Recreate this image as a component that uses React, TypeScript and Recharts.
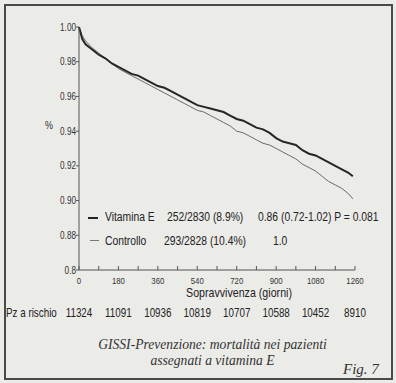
import { LineChart, Line, XAxis, YAxis } from "recharts";

const days = [0, 15, 30, 60, 90, 120, 150, 180, 210, 240, 270, 300, 330, 360, 390, 420, 450, 480, 510, 540, 570, 600, 630, 660, 690, 720, 750, 780, 810, 840, 870, 900, 930, 960, 990, 1020, 1050, 1080, 1110, 1140, 1170, 1200, 1230, 1250];
const vitaminaE = [1.0, 0.993, 0.99, 0.987, 0.984, 0.982, 0.979, 0.977, 0.975, 0.973, 0.972, 0.97, 0.968, 0.966, 0.965, 0.963, 0.961, 0.959, 0.957, 0.955, 0.954, 0.953, 0.952, 0.951, 0.949, 0.947, 0.946, 0.944, 0.942, 0.941, 0.939, 0.936, 0.934, 0.933, 0.932, 0.929, 0.927, 0.926, 0.924, 0.922, 0.92, 0.918, 0.916, 0.914];
const controllo = [1.0, 0.995, 0.992, 0.988, 0.985, 0.982, 0.979, 0.976, 0.974, 0.972, 0.97, 0.968, 0.966, 0.964, 0.962, 0.96, 0.958, 0.956, 0.954, 0.952, 0.951, 0.949, 0.947, 0.945, 0.943, 0.94, 0.939, 0.937, 0.935, 0.933, 0.932, 0.93, 0.928, 0.926, 0.924, 0.921, 0.919, 0.917, 0.914, 0.911, 0.909, 0.907, 0.904, 0.901];

const xTicks = [0, 90, 180, 270, 360, 450, 540, 630, 720, 810, 900, 990, 1080, 1170, 1260];
const xLabelTicks = [0, 180, 360, 540, 720, 900, 1080, 1260];
const yTicks = [0.86, 0.88, 0.9, 0.92, 0.94, 0.96, 0.98, 1.0];
const yTickLabels = ["0.8", "0.88", "0.90", "0.92", "0.94", "0.96", "0.98", "1.00"];
const atRisk = [11324, 11091, 10936, 10819, 10707, 10588, 10452, 8910];

const legendNames = ["Vitamina E", "Controllo"];
const legendEvents = ["252/2830 (8.9%)", "293/2828 (10.4%)"];
const legendHR = ["0.86 (0.72-1.02) P = 0.081", "1.0"];

const data = days.map((d, i) => ({ day: d, vit: vitaminaE[i], ctrl: controllo[i] }));

const sans = "'Liberation Sans', Arial, sans-serif";
const serif = "'Liberation Serif', 'DejaVu Serif', serif";
const ink = "#333";
const narrow = 0.82;

function NarrowText({ x, y, size, anchor = "middle", fill = ink, children }: any) {
  return (
    <text
      transform={`translate(${x} ${y}) scale(${narrow} 1)`}
      textAnchor={anchor}
      fontSize={size}
      fill={fill}
      fontFamily={sans}
    >
      {children}
    </text>
  );
}

function XTick(props: any) {
  const { x, y, payload } = props;
  const showLabel = xLabelTicks.includes(payload.value);
  return (
    <g>
      <line x1={x} x2={x} y1={y} y2={y - 4} stroke="#555" />
      {showLabel && (
        <NarrowText x={x} y={y + 14} size={9.5}>
          {payload.value}
        </NarrowText>
      )}
    </g>
  );
}

function YTick(props: any) {
  const { x, y, payload } = props;
  const idx = yTicks.findIndex((t) => Math.abs(t - payload.value) < 1e-6);
  return (
    <NarrowText x={x} y={y + 3.5} size={10} anchor="end">
      {yTickLabels[idx]}
    </NarrowText>
  );
}

function RiskTick(props: any) {
  const { x, y, payload } = props;
  const idx = xLabelTicks.indexOf(payload.value);
  return (
    <NarrowText x={x} y={y + 17} size={12} fill="#222">
      {atRisk[idx]}
    </NarrowText>
  );
}

export default function App() {
  return (
    <div style={{ position: "absolute", left: 0, top: 0, width: 396, height: 383, background: "#ebebe8", overflow: "hidden" }}>
      <div
        style={{
          position: "absolute",
          left: 4,
          top: 4,
          width: 389,
          height: 376,
          border: "2px solid #4a4a4a",
          boxSizing: "border-box",
        }}
      />
      <LineChart
        width={396}
        height={383}
        data={data}
        margin={{ top: 27, right: 41, left: 0, bottom: 63 }}
        style={{ position: "absolute", left: 0, top: 0 }}
      >
        <XAxis
          dataKey="day"
          type="number"
          domain={[0, 1260]}
          ticks={xTicks}
          interval={0}
          height={30}
          tickSize={0}
          tickMargin={0}
          tickLine={false}
          tick={<XTick />}
          stroke="#555"
          label={(p: any) => {
            const vb = p.viewBox || { x: 79, y: 270, width: 276, height: 30 };
            return (
              <NarrowText x={vb.x + vb.width / 2 + 22} y={vb.y + 27} size={13} fill="#222">
                Sopravvivenza (giorni)
              </NarrowText>
            );
          }}
        />
        <XAxis
          xAxisId="risk"
          dataKey="day"
          type="number"
          domain={[0, 1260]}
          ticks={xLabelTicks}
          interval={0}
          height={20}
          tickSize={0}
          tickMargin={0}
          axisLine={false}
          tickLine={false}
          tick={<RiskTick />}
          label={(p: any) => {
            const vb = p.viewBox || { x: 79, y: 300, width: 276, height: 20 };
            return (
              <NarrowText x={6} y={vb.y + 17} size={12} anchor="start" fill="#222">
                Pz a rischio
              </NarrowText>
            );
          }}
        />
        <YAxis
          type="number"
          domain={[0.86, 1.0]}
          ticks={yTicks}
          interval={0}
          width={79}
          tickSize={3}
          tickMargin={0}
          stroke="#555"
          tick={<YTick />}
          label={(p: any) => {
            const vb = p.viewBox || { x: 0, y: 27, width: 79, height: 243 };
            return (
              <NarrowText x={vb.x + 49} y={vb.y + 102} size={11}>
                %
              </NarrowText>
            );
          }}
        />
        <Line dataKey="ctrl" stroke="#6a6a6a" strokeWidth={1} dot={false} isAnimationActive={false} />
        <Line dataKey="vit" stroke="#262626" strokeWidth={2} dot={false} isAnimationActive={false} />
      </LineChart>

      {legendNames.map((name, i) => (
        <div key={name} style={{ position: "absolute", left: 0, top: i === 0 ? 210 : 234, fontFamily: sans, fontSize: 12, color: "#222" }}>
          <div
            style={{
              position: "absolute",
              left: i === 0 ? 88 : 90,
              top: i === 0 ? 7 : 6,
              width: i === 0 ? 10 : 9,
              height: i === 0 ? 2 : 1,
              background: i === 0 ? "#222" : "#777",
            }}
          />
          {[
            { text: name, left: 105 },
            { text: legendEvents[i], left: i === 0 ? 167 : 164 },
            { text: legendHR[i], left: i === 0 ? 258 : 273 },
          ].map((c) => (
            <span
              key={c.text}
              style={{
                position: "absolute",
                left: c.left,
                whiteSpace: "nowrap",
                transform: `scaleX(${narrow + 0.04})`,
                transformOrigin: "left center",
              }}
            >
              {c.text}
            </span>
          ))}
        </div>
      ))}

      <div
        style={{
          position: "absolute",
          left: 90,
          width: 245,
          top: 337,
          textAlign: "center",
          fontFamily: serif,
          fontStyle: "italic",
          fontSize: 13.6,
          lineHeight: "16px",
          color: "#333",
        }}
      >
        GISSI-Prevenzione: mortalità nei pazienti
        <br />
        assegnati a vitamina E
      </div>
      <div
        style={{
          position: "absolute",
          left: 343,
          top: 361,
          fontFamily: serif,
          fontStyle: "italic",
          fontSize: 15,
          color: "#333",
          whiteSpace: "nowrap",
        }}
      >
        Fig. 7
      </div>
    </div>
  );
}
